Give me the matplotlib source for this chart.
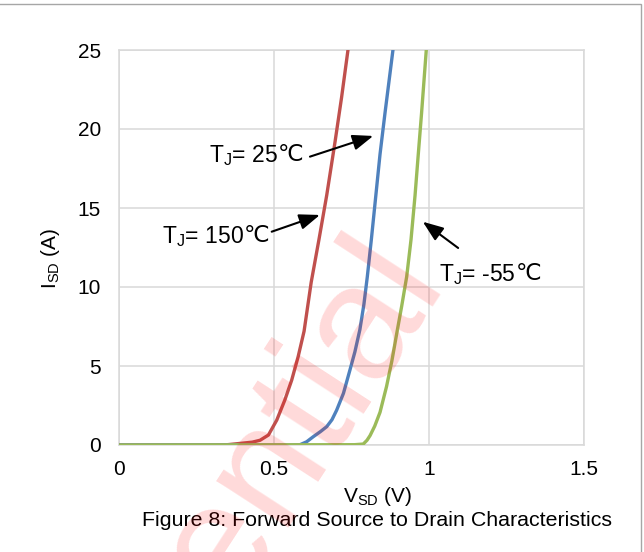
import matplotlib
matplotlib.use("Agg")
import matplotlib.pyplot as plt
from matplotlib.patches import Rectangle

plt.rcParams['font.family'] = ['Liberation Sans', 'DejaVu Sans']
plt.rcParams['mathtext.fontset'] = 'custom'
plt.rcParams['mathtext.rm'] = 'Liberation Sans'

# ---- data ----
v_150 = [0, 0.30, 0.35, 0.39, 0.43, 0.455, 0.482, 0.509, 0.535, 0.557, 0.578, 0.597, 0.620, 0.645, 0.670, 0.697, 0.718, 0.740]
i_150 = [0, 0, 0.02, 0.10, 0.18, 0.30, 0.63, 1.58, 2.85, 4.1, 5.6, 7.2, 10.3, 13.0, 15.8, 19.2, 22.0, 25.2]

v_25 = [0, 0.55, 0.584, 0.605, 0.627, 0.650, 0.670, 0.687, 0.702, 0.724, 0.745, 0.761, 0.777, 0.790, 0.801, 0.814, 0.827, 0.842, 0.858, 0.885]
i_25 = [0, 0, 0.02, 0.20, 0.53, 0.85, 1.16, 1.60, 2.20, 3.27, 4.75, 5.9, 7.3, 8.9, 10.65, 13.0, 15.5, 18.4, 21.0, 25.2]

v_m55 = [0, 0.76, 0.788, 0.80, 0.81, 0.825, 0.842, 0.863, 0.88, 0.896, 0.912, 0.928, 0.942, 0.955, 0.965, 0.976, 0.992]
i_m55 = [0, 0.02, 0.06, 0.30, 0.60, 1.20, 2.07, 3.7, 5.3, 7.07, 8.8, 10.65, 13.0, 15.8, 18.3, 21.0, 25.2]

x_ticks = [0, 0.5, 1, 1.5]
x_tick_labels = ["0", "0.5", "1", "1.5"]
y_ticks = [0, 5, 10, 15, 20, 25]
y_tick_labels = ["0", "5", "10", "15", "20", "25"]

label_heads = [r"T$_\mathregular{J}$= 25", r"T$_\mathregular{J}$= 150", r"T$_\mathregular{J}$= -55"]
degree_c = "℃"

# ---- figure ----
fig = plt.figure(figsize=(6.44, 5.52), dpi=100)
ax = fig.add_axes([119/644, 1-445/552, (584-119)/644, (445-50)/552])
ax.set_facecolor('none')

grid_c = '#D9D9D9'
ax.plot(v_150, i_150, color='#C0504D', lw=2.4, zorder=3)
ax.plot(v_25, i_25, color='#4F81BD', lw=2.4, zorder=3)
ax.plot(v_m55, i_m55, color='#9BBB59', lw=2.4, zorder=3)

ax.set_xlim(0, 1.5)
ax.set_ylim(0, 25)
ax.set_xticks(x_ticks)
ax.set_xticklabels(x_tick_labels)
ax.set_yticks(y_ticks)
ax.set_yticklabels(y_tick_labels)
ax.tick_params(axis='both', length=0, labelsize=15)
ax.tick_params(axis='x', pad=11)
ax.tick_params(axis='y', pad=13)
ax.grid(True, color=grid_c, lw=1.1)
ax.set_axisbelow(True)
for s in ax.spines.values():
    s.set_color(grid_c)
    s.set_linewidth(1.1)

arrow = dict(arrowstyle='-|>,head_length=0.5,head_width=0.19', color='black', lw=1.5,
             mutation_scale=25, shrinkA=0, shrinkB=0)
ax.annotate("", xy=(0.820, 19.56), xytext=(0.616, 18.25), arrowprops=arrow, zorder=5)
ax.annotate("", xy=(0.648, 14.56), xytext=(0.4926, 13.5), arrowprops=arrow, zorder=5)
ax.annotate("", xy=(0.980, 14.13), xytext=(1.094, 12.47), arrowprops=arrow, zorder=5)

label_pos = [(0.2903, 17.93), (0.1387, 12.77), (1.032, 10.38)]
for (lx, ly), head in zip(label_pos, label_heads):
    t = ax.text(lx, ly, head, fontsize=16.5, ha='left', va='baseline', zorder=5)
    ax.annotate(degree_c, xy=(1, 1), xycoords=t, ha='left', va='top', fontsize=16.5, zorder=5)

fig.text(378/644, 1-496/552, r"V$_\mathregular{SD}$ (V)", fontsize=15, ha='center', va='center')
fig.text(51/644, 1-258/552, r"I$_\mathregular{SD}$ (A)", fontsize=15, ha='center', va='center', rotation=90)
fig.text(377/644, 1-521/552, "Figure 8: Forward Source to Drain Characteristics", fontsize=15.4,
         ha='center', va='center')

# watermark
fig.text(208/644, 1-640/552, "Confidential", fontsize=118, color='red', alpha=0.15,
         rotation=57, rotation_mode='anchor', ha='center', va='baseline', zorder=10)

# outer frame
fig.patches.append(Rectangle((-0.01, -0.05), 641/644 + 0.01, 1-4/552 + 0.05,
                             transform=fig.transFigure, fill=False,
                             edgecolor='#A6A6A6', lw=1.0, zorder=0))

fig.savefig("out.png", dpi=100)
